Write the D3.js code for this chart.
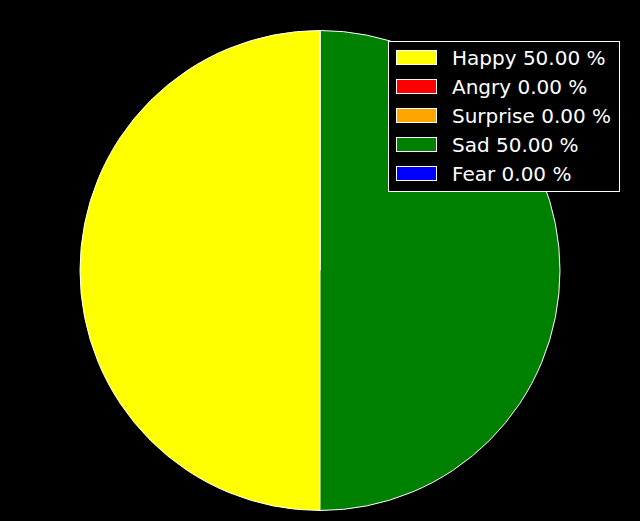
<!DOCTYPE html>
<html><head><meta charset="utf-8">
<script src="https://cdn.jsdelivr.net/npm/d3@7"></script>
<style>html,body{margin:0;padding:0;background:#000;}svg{display:block;}</style>
</head><body>
<svg id="c" width="640" height="521"></svg>
<script>
const categories = ["Happy", "Angry", "Surprise", "Sad", "Fear"];
const values = [50, 0, 0, 50, 0];
const colors = ["#ffff00", "#ff0000", "#ffa500", "#008000", "#0000ff"];

const svg = d3.select("#c");
svg.append("rect").attr("width", 640).attr("height", 521).attr("fill", "#000");

const cx = 320, cy = 270.5, r = 240;
const total = d3.sum(values);
const pie = d3.pie().sort(null).value(d => d)
  .startAngle(0).endAngle(-2 * Math.PI);
const arcs = pie(values);
const arc = d3.arc().innerRadius(0).outerRadius(r);

const g = svg.append("g").attr("transform", `translate(${cx},${cy})`);
g.selectAll("path").data(arcs).enter().append("path")
  .attr("d", arc)
  .attr("fill", (d, i) => colors[i])
  .attr("stroke", "#fff")
  .attr("stroke-width", 1)
  .attr("stroke-linejoin", "round");

// legend
const lx = 388.5, ly = 41.5, lw = 231, lh = 150;
const lg = svg.append("g");
lg.append("rect").attr("x", lx).attr("y", ly).attr("width", lw).attr("height", lh)
  .attr("fill", "#000").attr("stroke", "#fff").attr("stroke-width", 1);
const rowY = d3.scaleLinear().domain([0, 4]).range([57.5, 173.5]);
categories.forEach((c, i) => {
  const y = rowY(i);
  lg.append("rect").attr("x", 396.5).attr("y", y - 7).attr("width", 40).attr("height", 14)
    .attr("fill", colors[i]).attr("stroke", "#fff").attr("stroke-width", 1);
  const pct = (values[i] / total * 100).toFixed(2);
  lg.append("text").attr("x", 452).attr("y", y).attr("dy", "0.36em")
    .attr("fill", "#fff").attr("font-family", "DejaVu Sans").attr("font-size", 20)
    .text(`${c} ${pct} %`);
});
</script>
</body></html>
